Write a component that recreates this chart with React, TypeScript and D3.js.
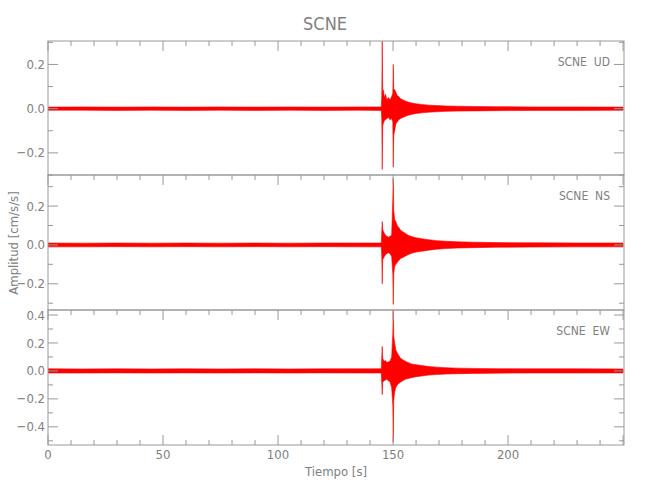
import React from "react";
import * as d3 from "d3";

const title = "SCNE";
const xLabel = "Tiempo [s]";
const yLabel = "Amplitud [cm/s/s]";
const channelLabels = ["SCNE  UD", "SCNE  NS", "SCNE  EW"];

// time (s) of envelope samples
const times = [0, 15, 30, 45, 60, 75, 90, 105, 120, 135, 144.9, 145.1, 145.3, 145.5, 145.8, 146.2, 146.7, 147.3, 148.0, 148.7, 149.4, 149.9, 150.1, 150.3, 150.7, 151.2, 151.8, 152.5, 153.3, 154.2, 155.3, 156.5, 158, 160, 162.5, 165.5, 169, 173, 178, 185, 195, 210, 230, 250];

const udUpper = [0.007, 0.008, 0.007, 0.008, 0.007, 0.008, 0.007, 0.008, 0.007, 0.008, 0.008, 0.06, 0.32, 0.07, 0.085, 0.05, 0.065, 0.04, 0.05, 0.04, 0.055, 0.07, 0.2, 0.09, 0.085, 0.075, 0.06, 0.055, 0.045, 0.04, 0.035, 0.03, 0.026, 0.022, 0.019, 0.016, 0.014, 0.012, 0.011, 0.01, 0.009, 0.008, 0.008, 0.007];
const udLower = [-0.007, -0.007, -0.008, -0.007, -0.008, -0.007, -0.008, -0.007, -0.008, -0.007, -0.008, -0.05, -0.275, -0.08, -0.065, -0.055, -0.05, -0.045, -0.04, -0.05, -0.045, -0.06, -0.265, -0.12, -0.1, -0.07, -0.06, -0.05, -0.045, -0.04, -0.035, -0.03, -0.026, -0.022, -0.019, -0.016, -0.014, -0.012, -0.011, -0.01, -0.009, -0.008, -0.008, -0.007];

const nsUpper = [0.01, 0.009, 0.01, 0.009, 0.01, 0.009, 0.01, 0.009, 0.01, 0.01, 0.01, 0.07, 0.12, 0.08, 0.07, 0.06, 0.05, 0.045, 0.04, 0.045, 0.05, 0.24, 0.345, 0.18, 0.13, 0.12, 0.1, 0.09, 0.075, 0.068, 0.06, 0.05, 0.043, 0.037, 0.032, 0.027, 0.022, 0.019, 0.016, 0.014, 0.012, 0.011, 0.01, 0.01];
const nsLower = [-0.01, -0.01, -0.009, -0.01, -0.009, -0.01, -0.009, -0.01, -0.009, -0.01, -0.01, -0.06, -0.2, -0.075, -0.07, -0.06, -0.05, -0.045, -0.04, -0.045, -0.06, -0.15, -0.306, -0.15, -0.11, -0.1, -0.09, -0.08, -0.07, -0.065, -0.058, -0.05, -0.043, -0.037, -0.032, -0.027, -0.022, -0.019, -0.016, -0.014, -0.012, -0.011, -0.01, -0.01];

const ewUpper = [0.015, 0.014, 0.015, 0.014, 0.015, 0.014, 0.015, 0.014, 0.015, 0.015, 0.015, 0.1, 0.175, 0.09, 0.08, 0.07, 0.075, 0.06, 0.065, 0.07, 0.1, 0.27, 0.43, 0.25, 0.2, 0.15, 0.13, 0.11, 0.09, 0.08, 0.07, 0.06, 0.05, 0.045, 0.038, 0.032, 0.027, 0.023, 0.02, 0.018, 0.016, 0.015, 0.015, 0.014];
const ewLower = [-0.015, -0.015, -0.014, -0.015, -0.014, -0.015, -0.014, -0.015, -0.014, -0.015, -0.015, -0.09, -0.17, -0.08, -0.075, -0.07, -0.065, -0.06, -0.07, -0.08, -0.12, -0.25, -0.51, -0.21, -0.15, -0.12, -0.1, -0.09, -0.08, -0.07, -0.06, -0.055, -0.048, -0.042, -0.036, -0.03, -0.026, -0.022, -0.02, -0.018, -0.016, -0.015, -0.015, -0.014];

const yDomains: [number, number][] = [[-0.3, 0.306], [-0.335, 0.36], [-0.53, 0.436]];
const yMajorTicks = [[-0.2, 0, 0.2], [-0.2, 0, 0.2], [-0.4, -0.2, 0, 0.2, 0.4]];
const xMajorTicks = [0, 50, 100, 150, 200];

const W = 650, H = 500;
const left = 48, right = 624;
const panelTops = [41, 175, 310];
const panelBottoms = [175, 310, 445];
const AX = "#999";
const TX = "#808080";
const FONT = "'DejaVu Sans Condensed', 'DejaVu Sans', sans-serif";

export default function App() {
  const x = d3.scaleLinear().domain([0, 250.4]).range([left, right]);
  const series = [
    [udUpper, udLower],
    [nsUpper, nsLower],
    [ewUpper, ewLower],
  ];
  const minorX = d3.range(0, 251, 10);
  return (
    <svg width={W} height={H} style={{ position: "absolute", left: 0, top: 0, background: "#fff" }}>
      <defs>
        {panelTops.map((t, i) => (
          <clipPath id={`clip${i}`} key={i}>
            <rect x={left} y={t} width={right - left} height={panelBottoms[i] - t} />
          </clipPath>
        ))}
      </defs>
      <text x={325} y={30} textAnchor="middle" fontFamily={FONT} fontWeight={200} fontSize={18} fill={TX}>{title}</text>
      {panelTops.map((top, i) => {
        const bottom = panelBottoms[i];
        const y = d3.scaleLinear().domain(yDomains[i]).range([bottom, top]);
        const [up, lo] = series[i];
        const data = times.map((t, k) => ({ t, u: up[k], l: lo[k] }));
        const area = d3.area<any>().x((d) => x(d.t)).y0((d) => y(d.l)).y1((d) => y(d.u));
        const [y0, y1] = yDomains[i];
        const minorY = d3.range(Math.ceil(y0 * 10 - 1e-6), Math.floor(y1 * 10 + 1e-6) + 1).map((v) => v / 10);
        const isLast = i === 2;
        return (
          <g key={i}>
            <path d={area(data) || ""} fill="#ff0000" stroke="#ff0000" strokeWidth={0.6} clipPath={`url(#clip${i})`} />
            <rect x={left} y={top} width={right - left} height={bottom - top} fill="none" stroke={AX} strokeWidth={1} />
            {minorX.map((v) => {
              const major = v % 50 === 0;
              const len = major ? 10 : 5;
              return (
                <g key={v}>
                  <line x1={x(v)} x2={x(v)} y1={top} y2={top + len} stroke={AX} />
                  {isLast && <line x1={x(v)} x2={x(v)} y1={bottom} y2={bottom - len} stroke={AX} />}
                </g>
              );
            })}
            {minorY.map((v) => {
              const major = yMajorTicks[i].some((m) => Math.abs(m - v) < 1e-6);
              const len = major ? 10 : 5;
              return (
                <g key={v}>
                  <line x1={left} x2={left + len} y1={y(v)} y2={y(v)} stroke={AX} />
                  <line x1={right} x2={right - len} y1={y(v)} y2={y(v)} stroke={AX} />
                </g>
              );
            })}
            {yMajorTicks[i].map((v) => (
              <text key={v} x={45} y={y(v)} dy="0.35em" textAnchor="end" fontFamily={FONT} fontWeight={200} fontSize={13} fill={TX}>
                {v < 0 ? "\u2212" + Math.abs(v).toFixed(1) : v.toFixed(1)}
              </text>
            ))}
            <text x={610} y={top + 25} textAnchor="end" fontFamily={FONT} fontWeight={200} fontSize={12} fill={TX} style={{ whiteSpace: "pre" }}>
              {channelLabels[i]}
            </text>
          </g>
        );
      })}
      {xMajorTicks.map((v) => (
        <text key={v} x={x(v)} y={459} textAnchor="middle" fontFamily={FONT} fontWeight={200} fontSize={13} fill={TX}>{v}</text>
      ))}
      <text x={336} y={476} textAnchor="middle" fontFamily={FONT} fontWeight={200} fontSize={13} fill={TX}>{xLabel}</text>
      <text transform={`translate(18,243) rotate(-90)`} textAnchor="middle" fontFamily={FONT} fontWeight={200} fontSize={13} fill={TX}>{yLabel}</text>
    </svg>
  );
}
